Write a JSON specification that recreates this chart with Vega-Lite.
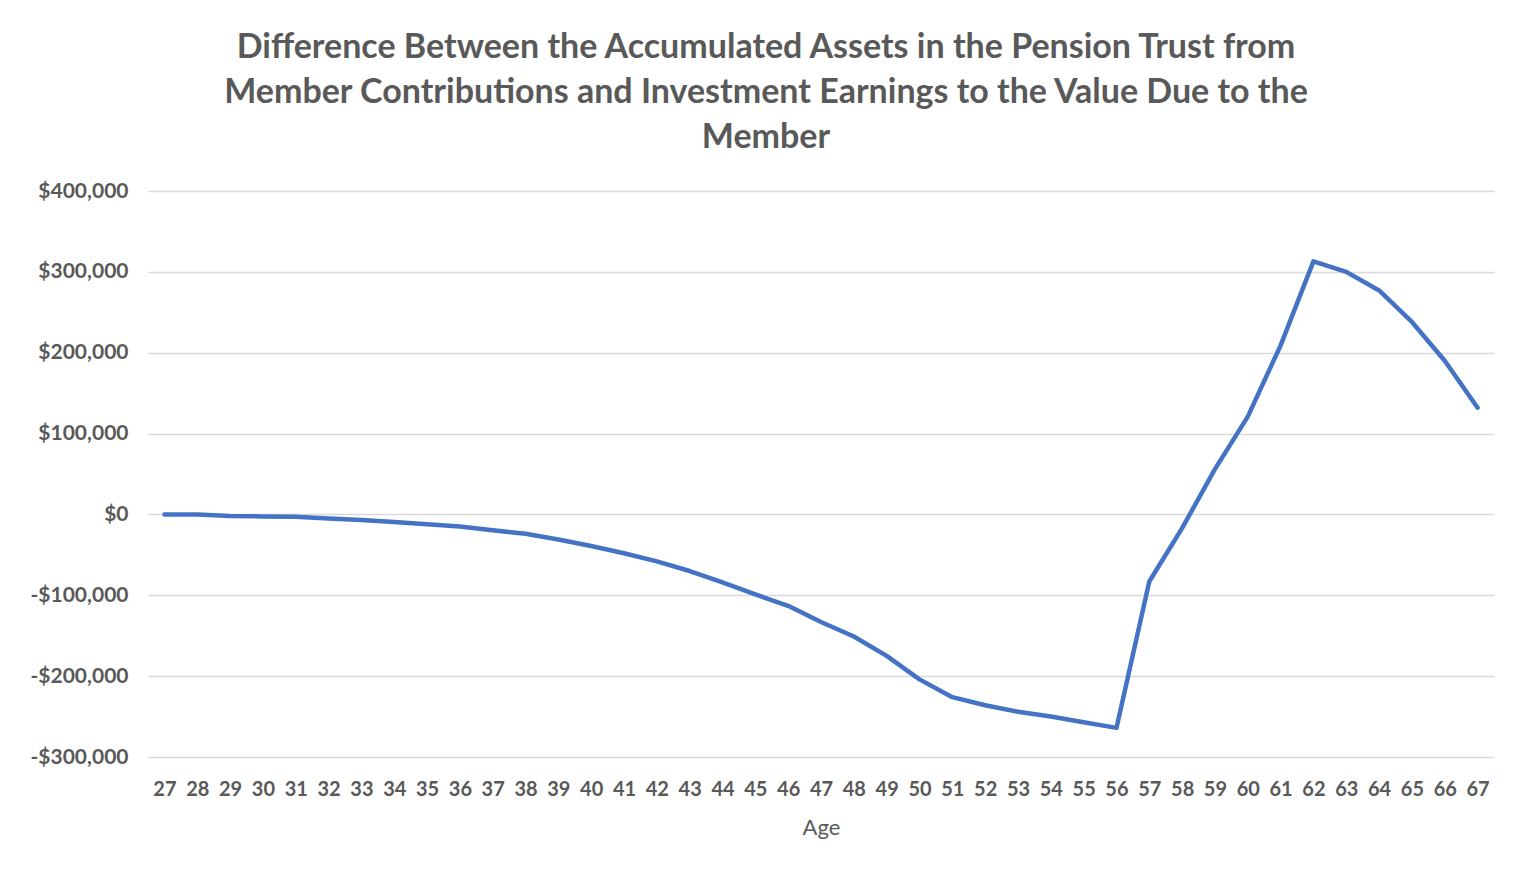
{
  "$schema": "https://vega.github.io/schema/vega-lite/v6.json",
  "autosize": {"type": "none"},
  "width": 1346,
  "height": 566,
  "padding": {"left": 148, "top": 191, "right": 35, "bottom": 114},
  "background": "white",
  "title": {
    "text": ["Difference Between the Accumulated Assets in the Pension Trust from", "Member Contributions and Investment Earnings to the Value Due to the", "Member"],
    "font": "Lato",
    "fontSize": 34,
    "fontWeight": "bold",
    "color": "#595959",
    "lineHeight": 45,
    "anchor": "middle",
    "dx": -55,
    "offset": 25
  },
  "data": {
    "values": [
      {"age": 27, "diff": 0},
      {"age": 28, "diff": 0},
      {"age": 29, "diff": -2000},
      {"age": 30, "diff": -2500},
      {"age": 31, "diff": -3000},
      {"age": 32, "diff": -5000},
      {"age": 33, "diff": -7000},
      {"age": 34, "diff": -9500},
      {"age": 35, "diff": -12000},
      {"age": 36, "diff": -15000},
      {"age": 37, "diff": -19500},
      {"age": 38, "diff": -24000},
      {"age": 39, "diff": -31000},
      {"age": 40, "diff": -39000},
      {"age": 41, "diff": -48000},
      {"age": 42, "diff": -58000},
      {"age": 43, "diff": -70000},
      {"age": 44, "diff": -84000},
      {"age": 45, "diff": -99000},
      {"age": 46, "diff": -113000},
      {"age": 47, "diff": -133000},
      {"age": 48, "diff": -151000},
      {"age": 49, "diff": -175000},
      {"age": 50, "diff": -204000},
      {"age": 51, "diff": -226000},
      {"age": 52, "diff": -236000},
      {"age": 53, "diff": -244000},
      {"age": 54, "diff": -250000},
      {"age": 55, "diff": -257000},
      {"age": 56, "diff": -264000},
      {"age": 57, "diff": -83000},
      {"age": 58, "diff": -17000},
      {"age": 59, "diff": 56000},
      {"age": 60, "diff": 121000},
      {"age": 61, "diff": 209000},
      {"age": 62, "diff": 313000},
      {"age": 63, "diff": 300000},
      {"age": 64, "diff": 277000},
      {"age": 65, "diff": 238000},
      {"age": 66, "diff": 190000},
      {"age": 67, "diff": 132000}
    ]
  },
  "mark": {"type": "line", "color": "#4472C4", "strokeWidth": 4.5, "strokeCap": "round", "strokeJoin": "round"},
  "encoding": {
    "x": {
      "field": "age",
      "type": "ordinal",
      "scale": {"type": "point", "padding": 0.5},
      "axis": {
        "title": "Age",
        "titleFont": "Lato",
        "titleFontSize": 22,
        "titleFontWeight": "normal",
        "titleColor": "#595959",
        "titlePadding": 18,
        "labelFont": "Lato",
        "labelFontSize": 20,
        "labelFontWeight": "bold",
        "labelColor": "#595959",
        "labelAngle": 0,
        "labelPadding": 22,
        "ticks": false,
        "domain": false,
        "grid": false
      }
    },
    "y": {
      "field": "diff",
      "type": "quantitative",
      "scale": {"domain": [-300000, 400000], "nice": false, "zero": false},
      "axis": {
        "title": null,
        "values": [-300000, -200000, -100000, 0, 100000, 200000, 300000, 400000],
        "labelExpr": "datum.value < 0 ? '-$' + format(-datum.value, ',') : '$' + format(datum.value, ',')",
        "labelFont": "Lato",
        "labelFontSize": 21,
        "labelFontWeight": "bold",
        "labelColor": "#595959",
        "labelPadding": 20,
        "ticks": false,
        "domain": false,
        "grid": true,
        "gridColor": "#d9d9d9",
        "gridWidth": 1.5
      }
    }
  },
  "config": {"view": {"stroke": null}}
}
